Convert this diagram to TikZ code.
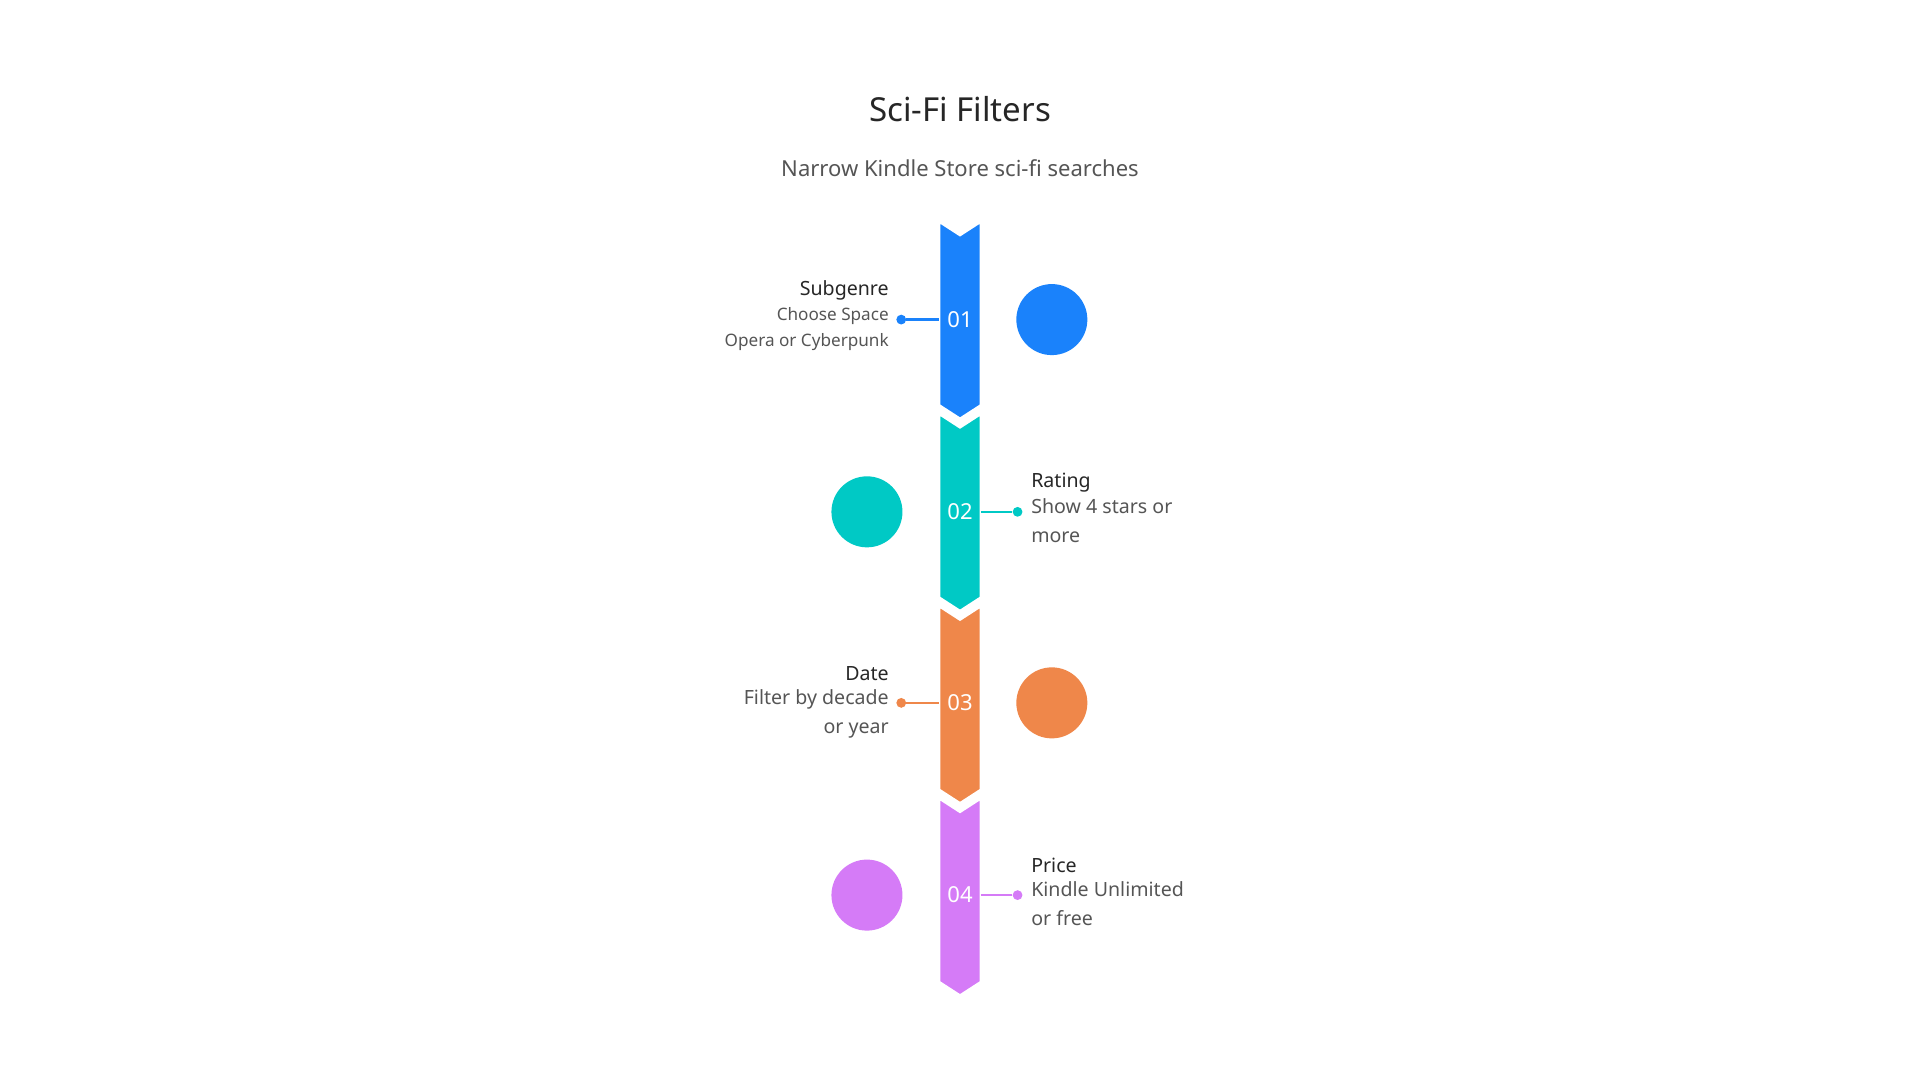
\documentclass[tikz,border=0pt]{standalone}
\usepackage{fontspec}
\setmainfont{Noto Sans}
\definecolor{cA}{HTML}{1A82FB}
\definecolor{cB}{HTML}{00C9C5}
\definecolor{cC}{HTML}{EF874A}
\definecolor{cD}{HTML}{D57BF7}
\definecolor{tx}{HTML}{555555}
\begin{document}
\begin{tikzpicture}[x=1pt,y=-1pt,
  ttl/.style={font=\fontsize{16}{19}\selectfont\bfseries,text=black!85,inner sep=0},
  dsc/.style={font=\fontsize{16}{23.5}\selectfont,text=tx,inner sep=0,align=left},
  num/.style={font=\fontsize{18}{20}\selectfont\bfseries,text=white,inner sep=0}]
\useasboundingbox (0,0) rectangle (1568,882);
\node[font=\fontsize{27}{30}\selectfont,text=black!85] (title) at (784,89) {Sci-Fi Filters};
\node[font=\fontsize{18}{22}\selectfont,text=tx] (sub) at (784,137) {Narrow Kindle Store sci-fi searches};
\foreach \i/\c in {0/cA,1/cB,2/cC,3/cD}{
  \pgfmathsetmacro\t{181+157*\i}
  \fill[\c,draw=white,line width=2pt] (767,\t) -- (784,\t+11) -- (801,\t) -- (801,\t+150) -- (784,\t+161) -- (767,\t+150) -- cycle;
}
% 1
\node[num] (n1) at (784,261) {01};
\fill[cA] (859,261) circle (29);
\node[circle,fill=cA,minimum size=8pt,inner sep=0] (d1) at (736,261) {};
\draw[cA,line width=2pt] (d1) -- (767,261);
\node[ttl,anchor=east] (t1) at (726,237) {Subgenre};
\node[dsc,anchor=north east,align=right,font=\fontsize{14}{21}\selectfont] (s1) at (726,251) {Choose Space\\Opera or Cyberpunk};
% 2
\node[num] (n2) at (784,418) {02};
\fill[cB] (708,418) circle (29);
\node[circle,fill=cB,minimum size=8pt,inner sep=0] (d2) at (831,418) {};
\draw[cB,line width=2pt] (801,418) -- (d2);
\node[ttl,anchor=west] (t2) at (842,394) {Rating};
\node[dsc,anchor=north west] (s2) at (842,407) {Show 4 stars or\\more};
% 3
\node[num] (n3) at (784,574) {03};
\fill[cC] (859,574) circle (29);
\node[circle,fill=cC,minimum size=8pt,inner sep=0] (d3) at (736,574) {};
\draw[cC,line width=2pt] (d3) -- (767,574);
\node[ttl,anchor=east] (t3) at (726,550) {Date};
\node[dsc,anchor=north east,align=right] (s3) at (726,563) {Filter by decade\\or year};
% 4
\node[num] (n4) at (784,731) {04};
\fill[cD] (708,731) circle (29);
\node[circle,fill=cD,minimum size=8pt,inner sep=0] (d4) at (831,731) {};
\draw[cD,line width=2pt] (801,731) -- (d4);
\node[ttl,anchor=west] (t4) at (842,707) {Price};
\node[dsc,anchor=north west] (s4) at (842,720) {Kindle Unlimited\\or free};
\end{tikzpicture}
\end{document}
